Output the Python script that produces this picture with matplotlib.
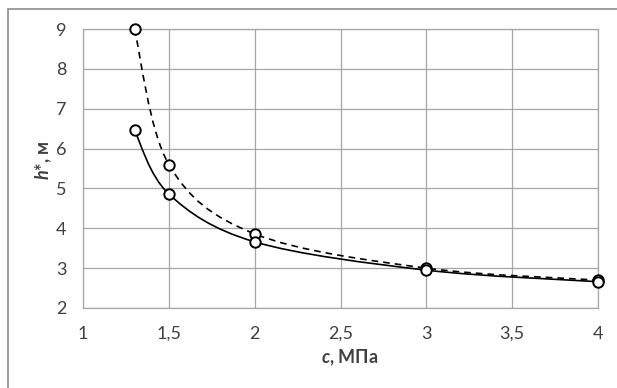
import numpy as np
import matplotlib
matplotlib.use("Agg")
import matplotlib.pyplot as plt
from matplotlib.path import Path
from matplotlib.patches import PathPatch, Rectangle

plt.rcParams['font.family'] = ['Lato', 'Noto Sans', 'DejaVu Sans']
plt.rcParams['font.sans-serif'] = ['Lato', 'Noto Sans']
plt.rcParams['mathtext.fontset'] = 'custom'
plt.rcParams['mathtext.bfit'] = 'sans:italic:bold'
plt.rcParams['mathtext.bf'] = 'sans:bold'

# data
c_vals = [1.3, 1.5, 2.0, 3.0, 4.0]
h_solid = [6.46, 4.86, 3.66, 2.95, 2.66]
h_dashed = [9.0, 5.6, 3.86, 3.0, 2.7]

x_ticks = [1, 1.5, 2, 2.5, 3, 3.5, 4]
x_labels = ['1', '1,5', '2', '2,5', '3', '3,5', '4']
y_ticks = [2, 3, 4, 5, 6, 7, 8, 9]

grid_col = '#a6a6a6'


def smooth_path(ax, xs, ys, t=1/6):
    # Excel-like smoothed line: bezier segments built in screen space
    pts = ax.transData.transform(np.column_stack([xs, ys]))
    n = len(pts)
    verts = [pts[0]]
    codes = [Path.MOVETO]
    for i in range(n - 1):
        p0 = pts[i - 1] if i > 0 else pts[i]
        p1 = pts[i]
        p2 = pts[i + 1]
        p3 = pts[i + 2] if i + 2 < n else pts[i + 1]
        c1 = p1 + (p2 - p0) * t
        c2 = p2 - (p3 - p1) * t
        verts += [c1, c2, p2]
        codes += [Path.CURVE4] * 3
    verts = ax.transData.inverted().transform(np.array(verts))
    return Path(verts, codes)


fig = plt.figure(figsize=(6.17, 3.88), dpi=100)
fig.patches.append(Rectangle((7.5 / 617, -0.1), 1.2, (388 - 8.5) / 388 + 0.1,
                             transform=fig.transFigure, fill=False,
                             edgecolor='#8c8c8c', linewidth=1.2))
ax = fig.add_axes([83 / 617, 80 / 388, 515 / 617, 279 / 388])
ax.set_xlim(1, 4)
ax.set_ylim(2, 9)
ax.set_xticks(x_ticks)
ax.set_xticklabels(x_labels)
ax.set_yticks(y_ticks)
ax.grid(True, color=grid_col, linewidth=0.9)
ax.set_axisbelow(True)
for s in ax.spines.values():
    s.set_color(grid_col)
    s.set_linewidth(0.9)
ax.tick_params(length=0, labelsize=13, colors='#404040')
ax.tick_params(axis='y', pad=12)
ax.tick_params(axis='x', pad=13)

ax.add_patch(PathPatch(smooth_path(ax, c_vals, h_dashed), fill=False,
                       edgecolor='black', linewidth=1.2, linestyle=(0, (4, 3))))
ax.add_patch(PathPatch(smooth_path(ax, c_vals, h_solid), fill=False,
                       edgecolor='black', linewidth=1.2))
ax.plot(c_vals, h_dashed, 'o', ms=7.5, mfc='white', mec='black', mew=1.4,
        clip_on=False, zorder=5)
ax.plot(c_vals, h_solid, 'o', ms=7.5, mfc='white', mec='black', mew=1.4,
        clip_on=False, zorder=5)

ax.set_xlabel(r'$\mathbfit{c}$, МПа', fontsize=13, fontweight='bold',
              color='#404040')
ax.set_ylabel(r'$\mathbfit{h}$*, м', fontsize=13, fontweight='bold',
              color='#404040')
ax.xaxis.set_label_coords(0.518, -0.179)
ax.yaxis.set_label_coords(-0.076, 0.53)
ax.xaxis.label.set_va('center')
ax.yaxis.label.set_va('center')

fig.savefig('out.png', dpi=100)
